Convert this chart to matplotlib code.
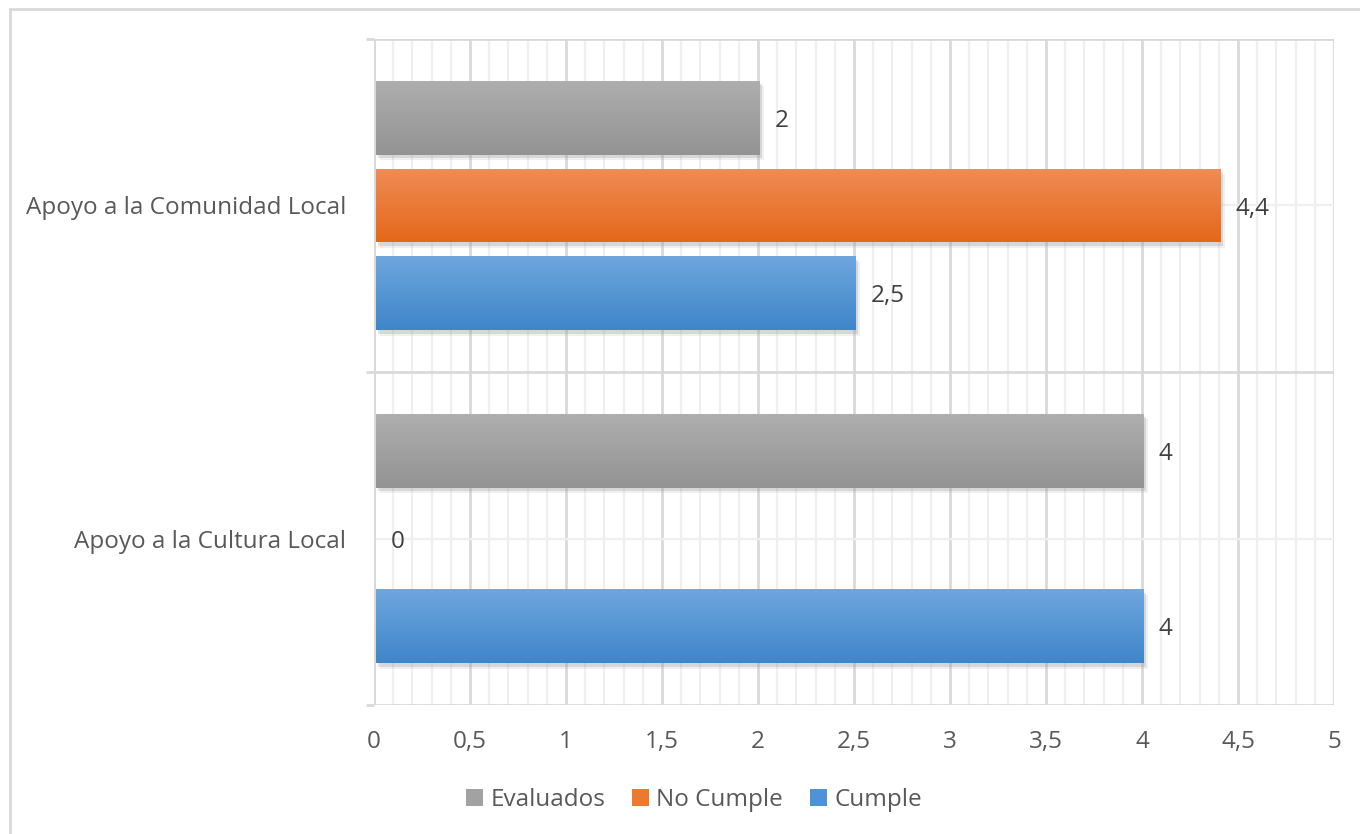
import matplotlib
matplotlib.use("Agg")
import matplotlib.pyplot as plt
import numpy as np
from matplotlib import patheffects as pe
from matplotlib.colors import LinearSegmentedColormap
from matplotlib.lines import Line2D
from matplotlib.patches import Patch

plt.rcParams['font.family'] = ['Open Sans', 'DejaVu Sans']

categories = ["Apoyo a la Cultura Local", "Apoyo a la Comunidad Local"]
series_names = ["Cumple", "No Cumple", "Evaluados"]
cumple = [4, 2.5]
no_cumple = [0, 4.4]
evaluados = [4, 2]
value_labels = {
    "Cumple": ["4", "2,5"],
    "No Cumple": ["0", "4,4"],
    "Evaluados": ["4", "2"],
}
xtick_values = [0, 0.5, 1, 1.5, 2, 2.5, 3, 3.5, 4, 4.5, 5]
xtick_labels = ["0", "0,5", "1", "1,5", "2", "2,5", "3", "3,5", "4", "4,5", "5"]

series_values = {"Cumple": cumple, "No Cumple": no_cumple, "Evaluados": evaluados}
grad = {
    "Cumple": ("#6EA6DE", "#3F86C9"),
    "No Cumple": ("#F08C55", "#E4681A"),
    "Evaluados": ("#AEAEAE", "#939393"),
}
legend_color = {"Cumple": "#4E93D6", "No Cumple": "#EC7A2E", "Evaluados": "#A2A2A2"}

FS = 17.5

fig = plt.figure(figsize=(13.6, 8.34), dpi=100)
ax = fig.add_axes([374/1360, (834-705)/834, (1334-374)/1360, (705-39)/834])

# outer chart border (left + top only visible)
fig.add_artist(Line2D([10/1360, 10/1360], [0, 1 - 9/834], transform=fig.transFigure,
                      color="#D9D9D9", lw=2))
fig.add_artist(Line2D([10/1360, 1], [1 - 9/834, 1 - 9/834], transform=fig.transFigure,
                      color="#D9D9D9", lw=2))

ax.set_xlim(0, 5)
ax.set_ylim(-0.5, 1.5)

# grid
for x in np.arange(0, 5.001, 0.1):
    major = abs(x*2 - round(x*2)) < 1e-6
    ax.axvline(x, color="#D9D9D9" if major else "#EFEFEF", lw=2.0 if major else 1.6, zorder=0)
for y in [0, 1]:
    ax.axhline(y, color="#EFEFEF", lw=1.6, zorder=0)
for y in [-0.5, 0.5, 1.5]:
    ax.axhline(y, color="#D9D9D9", lw=2.0, zorder=0.5)

bar_h = 0.222
offsets = {"Cumple": -0.264, "No Cumple": 0.0, "Evaluados": 0.264}
ypos = np.arange(len(categories))

shadow = [pe.SimplePatchShadow(offset=(1.5, -2.5), shadow_rgbFace="#8A8A8A", alpha=0.25),
          pe.SimplePatchShadow(offset=(3, -4), shadow_rgbFace="#A0A0A0", alpha=0.15),
          pe.Normal()]

for name in series_names:
    vals = series_values[name]
    top_c, bot_c = grad[name]
    cmap = LinearSegmentedColormap.from_list(name, [bot_c, top_c])
    bars = ax.barh(ypos + offsets[name], vals, height=bar_h, left=0.01,
                   color=legend_color[name], zorder=2, label=name, path_effects=shadow)
    for b, v in zip(bars, vals):
        if v <= 0:
            continue
        g = np.linspace(0, 1, 100).reshape(-1, 1)
        im = ax.imshow(g, cmap=cmap, aspect="auto", origin="lower",
                       extent=(b.get_x(), b.get_x() + b.get_width(), b.get_y(), b.get_y() + b.get_height()),
                       zorder=3)
        im.set_clip_path(b)
    for yy, v, lab in zip(ypos + offsets[name], vals, value_labels[name]):
        ax.text(v + 0.085, yy, lab, va="center_baseline", ha="left", fontsize=FS,
                color="#404040", zorder=5)

ax.set_xlim(0, 5)
ax.set_ylim(-0.5, 1.5)

for s in ax.spines.values():
    s.set_visible(False)
ax.axvline(0, color="#D9D9D9", lw=2.0, zorder=1)

ax.set_xticks(xtick_values)
ax.set_xticklabels(xtick_labels)
ax.tick_params(axis="x", length=0, pad=18, labelsize=FS, labelcolor="#595959")

ax.set_yticks([-0.5, 0.5, 1.5])
ax.set_yticklabels([])
ax.tick_params(axis="y", which="major", length=6, width=2, color="#D9D9D9")
ax.set_yticks(ypos, minor=True)
ax.set_yticklabels(categories, minor=True)
ax.tick_params(axis="y", which="minor", length=0, pad=20, labelsize=FS, labelcolor="#595959")

order = ["Evaluados", "No Cumple", "Cumple"]
leg_handles = [Patch(facecolor=legend_color[n], edgecolor="none") for n in order]
leg = fig.legend(leg_handles, order, loc="center", bbox_to_anchor=(694/1360, 1 - 800/834),
                 ncol=3, frameon=False, fontsize=FS, handlelength=0.7, handleheight=0.7,
                 handletextpad=0.3, columnspacing=1.1, labelcolor="#595959")

fig.savefig("out.png", dpi=100)
